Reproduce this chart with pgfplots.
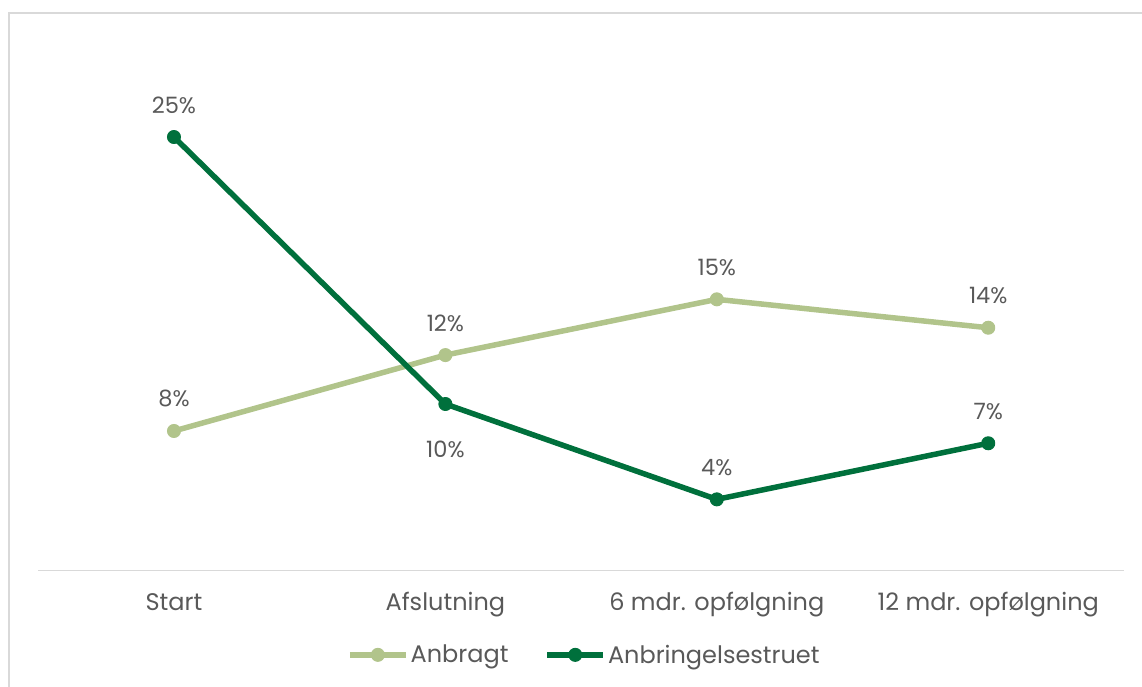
\documentclass[border=0pt]{standalone}
\usepackage{fontspec}
\setmainfont{Poppins}
\usepackage{pgfplots}
\pgfplotsset{compat=1.18}
\usepackage{pgfplotstable}
\definecolor{lightg}{HTML}{B1C48B}
\definecolor{darkg}{HTML}{00703C}
\definecolor{txt}{HTML}{595959}
\definecolor{framec}{HTML}{D9D9D9}

\pgfplotstableread{
x y lab s
0 7.97 8 24
1 12.30 12 24
2 15.48 15 24
3 13.86 14 24
}\anbragt
\pgfplotstableread{
x y lab s
0 24.74 25 24
1 9.51 10 -54
2 4.07 4 24
3 7.27 7 24
}\anbr

\begin{document}
\begin{tikzpicture}
\useasboundingbox (0pt,0pt) rectangle (1142pt,686pt);
\draw[framec, line width=2pt] (9pt,-2pt) -- (9pt,673pt) -- (1144pt,673pt);
\begin{axis}[
  at={(38.25pt,115.3pt)}, anchor=south west,
  scale only axis, width=1085.75pt, height=525.9pt,
  xmin=-0.5, xmax=3.5, ymin=0, ymax=30,
  axis x line=bottom, axis y line=none,
  axis line style={framec, line width=1.5pt, -},
  xtick={0,1,2,3},
  xticklabels={Start, Afslutning, 6 mdr. opfølgning, 12 mdr. opfølgning},
  major tick length=0pt,
  xticklabel style={anchor=base, yshift=-40pt, text=txt, font=\fontsize{24}{28}\selectfont},
  clip=false,
  point meta=explicit symbolic,
  visualization depends on={\thisrow{s} \as \myshift},
  nodes near coords={\pgfplotspointmeta\%},
  every node near coord/.style={anchor=base, yshift=\myshift pt, text=txt, font=\fontsize{22.5}{26}\selectfont},
  legend columns=-1,
  legend style={at={(0.503,-0.16)}, anchor=center, draw=none, fill=none,
    font=\fontsize{24}{28}\selectfont, text=txt,
    nodes={inner sep=2pt},
    /tikz/every even column/.append style={column sep=34pt}},
  legend image code/.code={\draw[mark repeat=2,mark phase=2,#1] plot coordinates {(0pt,0pt) (28pt,0pt) (56pt,0pt)};},
]
\addplot[lightg, line width=5.5pt, line join=round, mark=*, mark size=6.5pt, mark options={solid, fill=lightg, line width=1pt}]
  table[x=x, y=y, meta=lab] {\anbragt};
\addlegendentry{Anbragt}
\addplot[darkg, line width=5.5pt, line join=round, mark=*, mark size=6.5pt, mark options={solid, fill=darkg, line width=1pt}]
  table[x=x, y=y, meta=lab] {\anbr};
\addlegendentry{Anbringelsestruet}
\end{axis}
\end{tikzpicture}
\end{document}
